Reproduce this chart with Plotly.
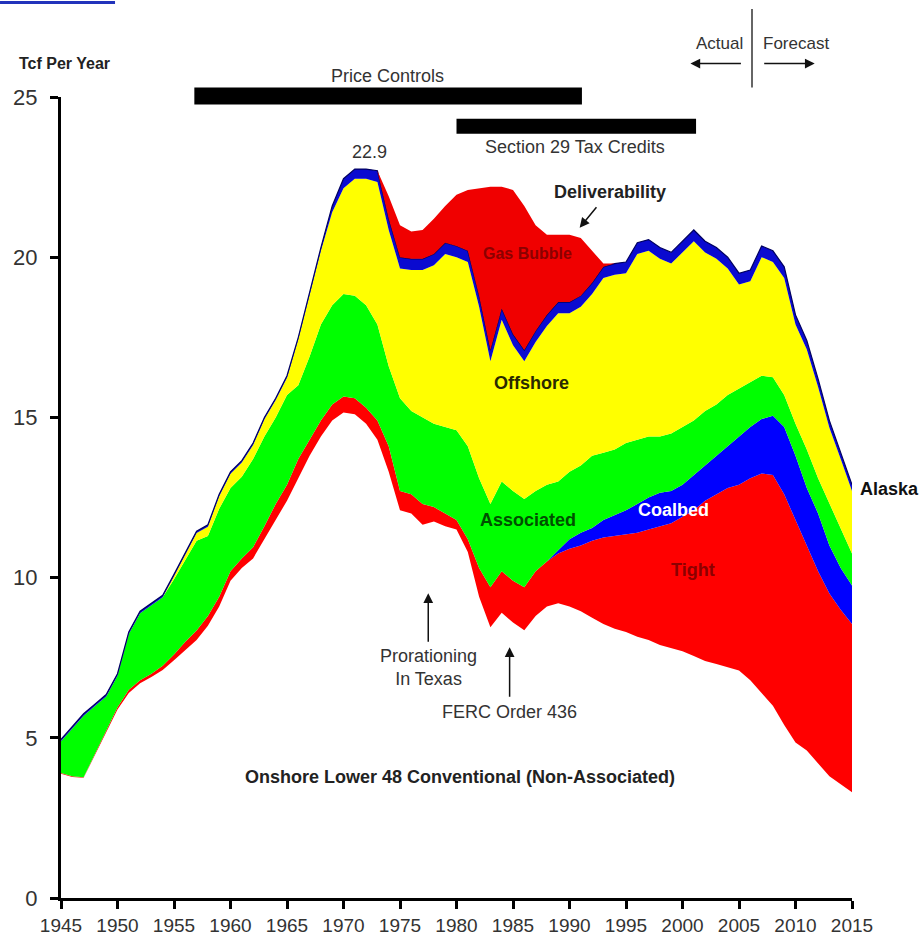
import plotly.graph_objects as go

years = list(range(1945, 2016))

# Cumulative tops of each layer (Tcf per year)
onshore_conv_top = [3.88, 3.78, 3.75, 4.45, 5.2, 5.88, 6.4, 6.7, 6.9, 7.12, 7.42, 7.75, 8.05, 8.5, 9.1,
                    9.9, 10.3, 10.6, 11.2, 11.8, 12.4, 13.1, 13.8, 14.4, 14.9, 15.15, 15.1, 14.8, 14.3, 13.3,
                    12.1, 12.0, 11.65, 11.75, 11.6, 11.5, 10.8, 9.4, 8.45, 8.9, 8.6, 8.36, 8.8, 9.1, 9.2,
                    9.1, 8.95, 8.75, 8.55, 8.4, 8.3, 8.15, 8.05, 7.9, 7.8, 7.7, 7.55, 7.4, 7.3, 7.2,
                    7.1, 6.8, 6.4, 6.0, 5.4, 4.85, 4.6, 4.2, 3.8, 3.55, 3.3]
tight_top = [3.9, 3.8, 3.77, 4.5, 5.25, 5.95, 6.5, 6.8, 7.0, 7.25, 7.6, 8.0, 8.35, 8.8, 9.4,
             10.2, 10.6, 10.95, 11.6, 12.3, 12.9, 13.7, 14.3, 14.9, 15.4, 15.65, 15.6, 15.3, 14.9, 14.1,
             12.7, 12.6, 12.3, 12.2, 12.0, 11.8, 11.2, 10.3, 9.7, 10.2, 9.9, 9.7, 10.2, 10.5, 10.75,
             10.9, 11.0, 11.15, 11.25, 11.3, 11.35, 11.4, 11.5, 11.6, 11.7, 11.9, 12.1, 12.4, 12.6, 12.8,
             12.9, 13.1, 13.25, 13.2, 12.6, 11.8, 11.0, 10.2, 9.5, 9.0, 8.55]
coalbed_top = [3.9, 3.8, 3.77, 4.5, 5.25, 5.95, 6.5, 6.8, 7.0, 7.25, 7.6, 8.0, 8.35, 8.8, 9.4,
               10.2, 10.6, 10.95, 11.6, 12.3, 12.9, 13.7, 14.3, 14.9, 15.4, 15.65, 15.6, 15.3, 14.9, 14.1,
               12.7, 12.6, 12.3, 12.2, 12.0, 11.8, 11.2, 10.3, 9.7, 10.2, 9.9, 9.7, 10.2, 10.5, 10.85,
               11.2, 11.4, 11.55, 11.8, 11.95, 12.1, 12.3, 12.5, 12.65, 12.7, 12.9, 13.2, 13.5, 13.8, 14.1,
               14.4, 14.7, 14.95, 15.05, 14.7, 13.8, 12.8, 12.0, 11.0, 10.3, 9.75]
associated_top = [4.89, 5.29, 5.69, 5.99, 6.29, 6.94, 8.24, 8.89, 9.14, 9.39, 9.95, 10.55, 11.15, 11.3, 12.15,
                  12.8, 13.15, 13.7, 14.4, 15.0, 15.7, 16.0, 16.9, 17.9, 18.5, 18.85, 18.8, 18.5, 17.9, 16.6,
                  15.6, 15.2, 15.0, 14.8, 14.7, 14.6, 14.1, 13.1, 12.3, 13.0, 12.7, 12.45, 12.7, 12.9, 13.0,
                  13.3, 13.5, 13.8, 13.9, 14.0, 14.2, 14.3, 14.4, 14.4, 14.5, 14.7, 14.9, 15.2, 15.4, 15.7,
                  15.9, 16.1, 16.3, 16.25, 15.7, 14.8, 14.0, 13.1, 12.3, 11.5, 10.75]
offshore_top = [4.89, 5.29, 5.69, 5.99, 6.29, 6.94, 8.24, 8.89, 9.14, 9.39, 10.04, 10.74, 11.39, 11.59, 12.54,
                13.24, 13.59, 14.14, 14.94, 15.54, 16.24, 17.44, 18.82, 20.2, 21.4, 22.15, 22.45, 22.45, 22.35, 20.85,
                19.65, 19.6, 19.6, 19.75, 20.1, 20.0, 19.85, 18.45, 16.75, 18.05, 17.25, 16.75, 17.35, 17.85, 18.25,
                18.25, 18.45, 18.85, 19.35, 19.45, 19.5, 20.1, 20.2, 19.95, 19.8, 20.15, 20.5, 20.15, 19.95, 19.65,
                19.15, 19.25, 20.0, 19.85, 19.35, 17.9, 17.12, 15.95, 14.68, 13.7, 12.7]
alaska_top = [4.95, 5.35, 5.75, 6.05, 6.35, 7.0, 8.3, 8.95, 9.2, 9.45, 10.1, 10.8, 11.45, 11.65, 12.6,
              13.3, 13.65, 14.2, 15.0, 15.6, 16.3, 17.5, 18.9, 20.3, 21.6, 22.45, 22.75, 22.75, 22.7, 21.2,
              20.0, 19.95, 19.95, 20.1, 20.45, 20.35, 20.2, 18.8, 17.1, 18.4, 17.6, 17.1, 17.7, 18.2, 18.6,
              18.6, 18.8, 19.2, 19.7, 19.8, 19.85, 20.45, 20.55, 20.3, 20.15, 20.5, 20.85, 20.5, 20.3, 20.0,
              19.5, 19.6, 20.35, 20.2, 19.7, 18.2, 17.4, 16.2, 14.9, 13.9, 12.9]

bubble_years = list(range(1973, 1995))
bubble_top = [22.7, 21.9, 21.0, 20.8, 20.85, 21.2, 21.6, 21.95, 22.1, 22.15, 22.2, 22.2, 22.1, 21.6,
              21.0, 20.7, 20.7, 20.7, 20.6, 20.2, 19.8, 19.8]

x_ticks = list(range(1945, 2016, 5))
y_ticks = [0, 5, 10, 15, 20, 25]

FONT = "Liberation Sans, Arial, sans-serif"

fig = go.Figure()

layers = [
    (onshore_conv_top, "#FFFFFF", "tozeroy"),
    (tight_top, "#FF0000", "tonexty"),
    (coalbed_top, "#0000FF", "tonexty"),
    (associated_top, "#00FF00", "tonexty"),
    (offshore_top, "#FFFF00", "tonexty"),
]
for ys, col, fill in layers:
    fig.add_trace(go.Scatter(x=years, y=ys, mode="lines", line=dict(width=0, color=col),
                             fill=fill, fillcolor=col, hoverinfo="skip", showlegend=False))
fig.add_trace(go.Scatter(x=years, y=alaska_top, mode="lines", line=dict(width=1.2, color="#000060"),
                         fill="tonexty", fillcolor="#0A0AD0", hoverinfo="skip", showlegend=False))

# gas bubble on top of the Alaska layer
bubble_base = [alaska_top[years.index(yr)] for yr in bubble_years]
fig.add_trace(go.Scatter(x=bubble_years, y=bubble_base, mode="lines", line=dict(width=0),
                         hoverinfo="skip", showlegend=False))
fig.add_trace(go.Scatter(x=bubble_years, y=bubble_top, mode="lines", line=dict(width=0, color="#F00000"),
                         fill="tonexty", fillcolor="#F00000", hoverinfo="skip", showlegend=False))

def txt(text, x, y, size=18, color="#333333", bold=False, xref="x", yref="y", xanchor="center", **kw):
    if bold:
        text = "<b>" + text + "</b>"
    d = dict(text=text, x=x, y=y, xref=xref, yref=yref, showarrow=False,
             xanchor=xanchor, yanchor="middle",
             font=dict(family=FONT, size=size, color=color))
    d.update(kw)
    return d

def arrow(x, y, ax, ay, xref="x", yref="y"):
    return dict(text="", x=x, y=y, xref=xref, yref=yref, ax=ax, ay=ay, showarrow=True,
                arrowhead=2, arrowsize=1.3, arrowwidth=1.5, arrowcolor="#111111", standoff=0)

annotations = [
    txt("Tcf Per Year", 0.004, 1.0418, size=16, color="#222222", bold=True, xref="paper", yref="paper"),
    txt("Price Controls", 1973.9, 1.0256, yref="paper"),
    txt("Section 29 Tax Credits", 1990.5, 23.45),
    txt("22.9", 1972.3, 23.29),
    txt("Deliverability", 1993.6, 22.05, bold=True, color="#222222"),
    arrow(1990.9, 20.92, 18, -22),
    txt("Gas Bubble", 1986.3, 20.11, size=16, color="#8B0000", bold=True),
    txt("Offshore", 1986.6, 16.06, color="#2A2A00", bold=True),
    txt("Associated", 1986.3, 11.79, color="#005000", bold=True),
    txt("Coalbed", 1999.2, 12.1, color="#FFFFFF", bold=True),
    txt("Tight", 2000.9, 10.23, color="#8B0000", bold=True),
    txt("Alaska", 2015, 12.78, color="#111111", bold=True, xanchor="left", xshift=6),
    txt("Onshore Lower 48 Conventional (Non-Associated)", 1980.3, 3.77, size=18, color="#222222", bold=True),
    txt("Prorationing<br>In Texas", 1977.5, 7.2),
    arrow(1977.5, 9.51, 0, 50),
    txt("FERC Order 436", 1984.7, 5.8),
    arrow(1984.7, 7.83, 0, 51),
    txt("Actual", 2003.3, 1.0667, size=17, yref="paper"),
    txt("Forecast", 2010.0, 1.0667, size=17, yref="paper"),
    arrow(2000.7, 1.0418, 52, 0, yref="paper"),
    arrow(2011.7, 1.0418, -52, 0, yref="paper"),
]

shapes = [
    dict(type="rect", xref="x", yref="paper", x0=1956.8, x1=1991.1, y0=0.9906, y1=1.0119,
         fillcolor="black", line=dict(width=0)),
    dict(type="rect", xref="x", yref="y", x0=1980.0, x1=2001.2, y0=23.85, y1=24.32,
         fillcolor="black", line=dict(width=0)),
    dict(type="line", xref="x", yref="paper", x0=2006.15, x1=2006.15, y0=1.0119, y1=1.110,
         line=dict(width=1.5, color="#333333")),
    dict(type="line", xref="paper", yref="paper", x0=-0.0771, x1=0.0683, y0=1.118, y1=1.118,
         line=dict(width=3, color="#2233BB")),
]

axis_common = dict(showline=True, linecolor="black", linewidth=3, ticks="outside", ticklen=8,
                   tickwidth=3, tickcolor="black", showgrid=False, zeroline=False, automargin=False)

fig.update_layout(
    width=922, height=939,
    margin=dict(l=61, r=70, t=96.5, b=41, pad=0),
    paper_bgcolor="white", plot_bgcolor="white",
    showlegend=False,
    xaxis=dict(range=[1945, 2015], tickvals=x_ticks, ticklabelstandoff=0,
               tickfont=dict(family=FONT, size=19, color="#333333"), **axis_common),
    yaxis=dict(range=[0, 25], tickvals=y_ticks, ticklabelstandoff=8,
               tickfont=dict(family=FONT, size=22, color="#333333"), **axis_common),
    annotations=annotations,
    shapes=shapes,
)

fig.write_html("out.html", config={"displayModeBar": False, "staticPlot": True},
               post_script="document.body.style.margin='0px';document.body.style.overflow='hidden';")
